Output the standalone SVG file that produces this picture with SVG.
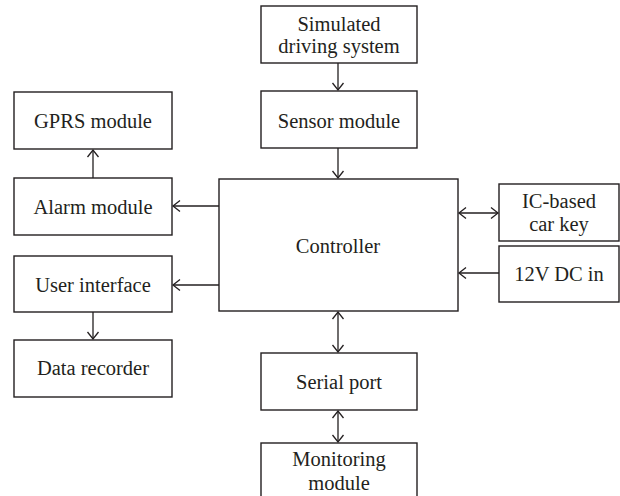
<svg xmlns="http://www.w3.org/2000/svg" width="620" height="496" viewBox="0 0 620 496">
  <defs>
    <style>
      .box { fill: #ffffff; stroke: #231f20; stroke-width: 1.4; }
      .lbl { font-family: "Liberation Serif", "Times New Roman", serif; font-size: 20.5px; fill: #231f20; text-anchor: middle; }
      .wire { fill: none; stroke: #231f20; stroke-width: 1.3; }
    </style>
    <marker id="head" viewBox="-8 -7 10 14" markerWidth="10" markerHeight="14" refX="0" refY="0" orient="auto-start-reverse" markerUnits="userSpaceOnUse">
      <path d="M -7 -5.5 L 0 0 L -7 5.5" fill="none" stroke="#231f20" stroke-width="1.3"/>
    </marker>
  </defs>
  <rect width="620" height="496" fill="#ffffff"/>

  <g id="connectors">
    <line class="wire" x1="338" y1="63" x2="338" y2="90" marker-end="url(#head)"/>
    <line class="wire" x1="338" y1="148" x2="338" y2="178" marker-end="url(#head)"/>
    <line class="wire" x1="219" y1="206" x2="173" y2="206" marker-end="url(#head)"/>
    <line class="wire" x1="219" y1="285" x2="173" y2="285" marker-end="url(#head)"/>
    <line class="wire" x1="93" y1="178" x2="93" y2="150" marker-end="url(#head)"/>
    <line class="wire" x1="93" y1="312" x2="93" y2="339" marker-end="url(#head)"/>
    <line class="wire" x1="459" y1="213" x2="498" y2="213" marker-start="url(#head)" marker-end="url(#head)"/>
    <line class="wire" x1="499" y1="273" x2="459" y2="273" marker-end="url(#head)"/>
    <line class="wire" x1="338" y1="312" x2="338" y2="352" marker-start="url(#head)" marker-end="url(#head)"/>
    <line class="wire" x1="338" y1="411" x2="338" y2="442" marker-start="url(#head)" marker-end="url(#head)"/>
  </g>

  <g id="simulated-driving-system">
    <rect class="box" x="261" y="6" width="156" height="57"/>
    <text class="lbl" x="339" y="31">Simulated</text>
    <text class="lbl" x="339" y="53">driving system</text>
  </g>
  <g id="sensor-module">
    <rect class="box" x="261" y="91" width="156" height="57"/>
    <text class="lbl" x="339" y="128">Sensor module</text>
  </g>
  <g id="controller">
    <rect class="box" x="219" y="179" width="239" height="132"/>
    <text class="lbl" x="338" y="253">Controller</text>
  </g>
  <g id="ic-car-key">
    <rect class="box" x="499" y="184" width="120" height="57"/>
    <text class="lbl" x="559" y="208">IC-based</text>
    <text class="lbl" x="559" y="231">car key</text>
  </g>
  <g id="dc-in">
    <rect class="box" x="499" y="246" width="120" height="56"/>
    <text class="lbl" x="559" y="281">12V DC in</text>
  </g>
  <g id="gprs-module">
    <rect class="box" x="14" y="92" width="158" height="57"/>
    <text class="lbl" x="93" y="128">GPRS module</text>
  </g>
  <g id="alarm-module">
    <rect class="box" x="14" y="178" width="158" height="57"/>
    <text class="lbl" x="93" y="214">Alarm module</text>
  </g>
  <g id="user-interface">
    <rect class="box" x="14" y="256" width="158" height="56"/>
    <text class="lbl" x="93" y="292">User interface</text>
  </g>
  <g id="data-recorder">
    <rect class="box" x="14" y="340" width="158" height="57"/>
    <text class="lbl" x="93" y="375">Data recorder</text>
  </g>
  <g id="serial-port">
    <rect class="box" x="261" y="353" width="156" height="57"/>
    <text class="lbl" x="339" y="389">Serial port</text>
  </g>
  <g id="monitoring-module">
    <rect class="box" x="261" y="443" width="156" height="62"/>
    <text class="lbl" x="339" y="466">Monitoring</text>
    <text class="lbl" x="339" y="490">module</text>
  </g>
</svg>
